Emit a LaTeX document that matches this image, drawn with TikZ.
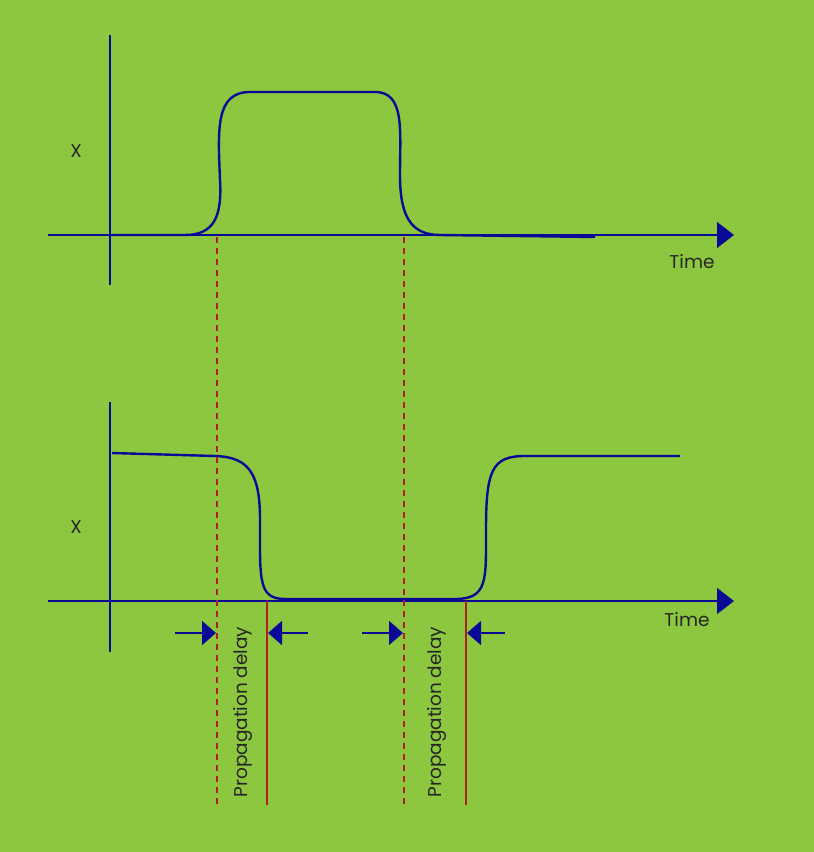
\documentclass[tikz,border=0pt]{standalone}
\usepackage{fontspec}
\setmainfont{Poppins}
\usetikzlibrary{arrows.meta}
\definecolor{bg}{HTML}{8DC63F}
\definecolor{nav}{HTML}{0A0A96}
\definecolor{rd}{HTML}{B01E1E}
\begin{document}
\begin{tikzpicture}[x=1pt,y=-1pt,
  ax/.style={draw=nav,line width=1.5pt},
  sig/.style={draw=nav,line width=2.4pt},
  dsh/.style={draw=rd,line width=1.6pt,dash pattern=on 6pt off 5pt},
  sol/.style={draw=rd,line width=1.8pt},
  pa/.style={draw=nav,line width=1.5pt,-{Triangle[length=14pt,width=24pt]}},
  lbl/.style={text=black!85,font=\fontsize{18.5}{22}\selectfont}]
\fill[bg] (0,0) rectangle (814,852);
\useasboundingbox (0,0) rectangle (814,852);
% top axes
\draw[ax] (110,35) -- (110,285);
\coordinate (t0) at (48,235); \coordinate (t1) at (734,235);
\draw[ax,-{Triangle[length=17pt,width=26pt]}] (t0) -- (t1);
\draw[sig] (110,235) -- (185,235) .. controls (215,235) and (222,215) .. (220,180)
  .. controls (218,130) and (215,92) .. (250,92) -- (375,92)
  .. controls (405,92) and (400,130) .. (400,175)
  .. controls (400,215) and (410,235) .. (440,235) -- (595,237);
% bottom axes
\draw[ax] (110,402) -- (110,652);
\coordinate (b0) at (48,601); \coordinate (b1) at (734,601);
\draw[ax,-{Triangle[length=17pt,width=26pt]}] (b0) -- (b1);
\draw[sig] (112,453) -- (215,456) .. controls (250,457) and (260,475) .. (260,520)
  .. controls (260,580) and (258,599) .. (285,599) -- (455,599)
  .. controls (488,599) and (486,580) .. (486,530)
  .. controls (486,470) and (492,456) .. (525,456) -- (680,456);
% red lines
\draw[dsh] (217,237) -- (217,805);
\draw[dsh] (404,237) -- (404,805);
\draw[sol] (267,601) -- (267,805);
\draw[sol] (466,601) -- (466,805);
% delay arrows
\coordinate (a1) at (175,633); \coordinate (a2) at (216,633);
\coordinate (a3) at (308,633); \coordinate (a4) at (268,633);
\coordinate (a5) at (362,633); \coordinate (a6) at (403,633);
\coordinate (a7) at (505,633); \coordinate (a8) at (467,633);
\draw[pa] (a1) -- (a2); \draw[pa] (a3) -- (a4);
\draw[pa] (a5) -- (a6); \draw[pa] (a7) -- (a8);
\node[lbl,rotate=90] (p1) at (243,712) {Propagation delay};
\node[lbl,rotate=90] (p2) at (437,712) {Propagation delay};
\node[lbl] (x1) at (76,151) {X};
\node[lbl] (x2) at (76,527) {X};
\node[lbl] (tm1) at (692,262) {Time};
\node[lbl] (tm2) at (687,620) {Time};
\end{tikzpicture}
\end{document}
